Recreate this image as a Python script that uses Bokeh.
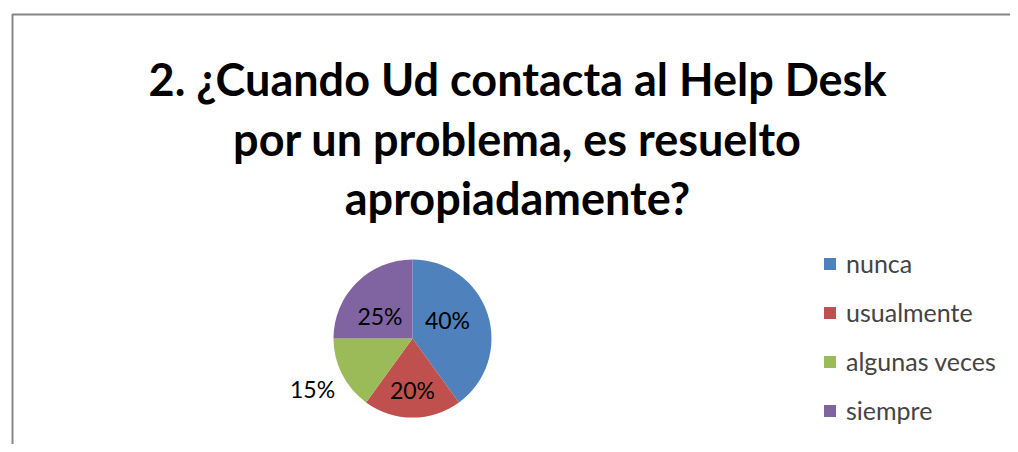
import math
from bokeh.plotting import figure
from bokeh.models import Range1d, ColumnDataSource, Legend, LegendItem
from bokeh.core.properties import value
from bokeh.embed import file_html
from bokeh.resources import INLINE

# ---- data ----
categories = ["nunca", "usualmente", "algunas veces", "siempre"]
percent = [40, 20, 15, 25]
colors = ["#4F81BD", "#C0504D", "#9BBB59", "#8064A2"]
title_lines = ["2. ¿Cuando Ud contacta al Help Desk",
               "por un problema, es resuelto",
               "apropiadamente?"]

# ---- layout (pixels) ----
W, H = 1010, 444
cx, cy, R = 412, 106, 79
label_frac = [0.5, 0.65, 1.42, 0.5]
label_nudge_x = [-2.6, 0, 0, -4.6]
label_nudge_y = [5.8, 0, 0, -5.9]

p = figure(width=W, height=H, output_backend="svg", toolbar_location=None,
           x_range=Range1d(0, W), y_range=Range1d(0, H),
           x_axis_location=None, y_axis_location=None, min_border=0)
p.grid.visible = False
p.outline_line_color = None
p.background_fill_color = "white"
p.border_fill_color = "white"

# chart border (left & top visible)
p.line(x=[12, 12, W + 5], y=[-5, 430, 430], line_color="#868686", line_width=2)

# title
p.text(x=[517] * 3, y=[366, 306, 247], text=title_lines,
       text_font=value("Lato"), text_font_style="bold", text_font_size="45px",
       text_align="center", text_baseline="alphabetic", text_color="black")

# pie
total = float(sum(percent))
starts, ends, lx, ly, labels = [], [], [], [], []
cum = 0.0
for i, v in enumerate(percent):
    a0 = math.pi / 2 - 2 * math.pi * cum / total
    cum += v
    a1 = math.pi / 2 - 2 * math.pi * cum / total
    starts.append(a0)
    ends.append(a1)
    mid = (a0 + a1) / 2
    lx.append(cx + R * label_frac[i] * math.cos(mid) + label_nudge_x[i])
    ly.append(cy + R * label_frac[i] * math.sin(mid) + label_nudge_y[i])
    labels.append(f"{v}%")

src = ColumnDataSource(dict(x=[cx] * 4, y=[cy] * 4, start=starts, end=ends,
                            color=colors, cat=categories))
r = p.wedge(x="x", y="y", radius=R, start_angle="start", end_angle="end",
            direction="clock", fill_color="color", line_color=None, source=src)

p.text(x=lx, y=ly, text=labels, text_font=value("Lato"), text_font_size="23px",
       text_align="center", text_baseline="middle", text_color="black")

legend = Legend(items=[LegendItem(label=c, renderers=[r], index=i)
                       for i, c in enumerate(categories)],
                location=(822, 19), orientation="vertical",
                glyph_width=15, glyph_height=15, label_standoff=9,
                label_text_font="Lato", label_text_font_size="25px",
                label_height=20, spacing=19, padding=0, margin=0,
                border_line_color=None, background_fill_alpha=0)
p.add_layout(legend, "center")

open("out.html", "w").write(file_html(p, INLINE))
